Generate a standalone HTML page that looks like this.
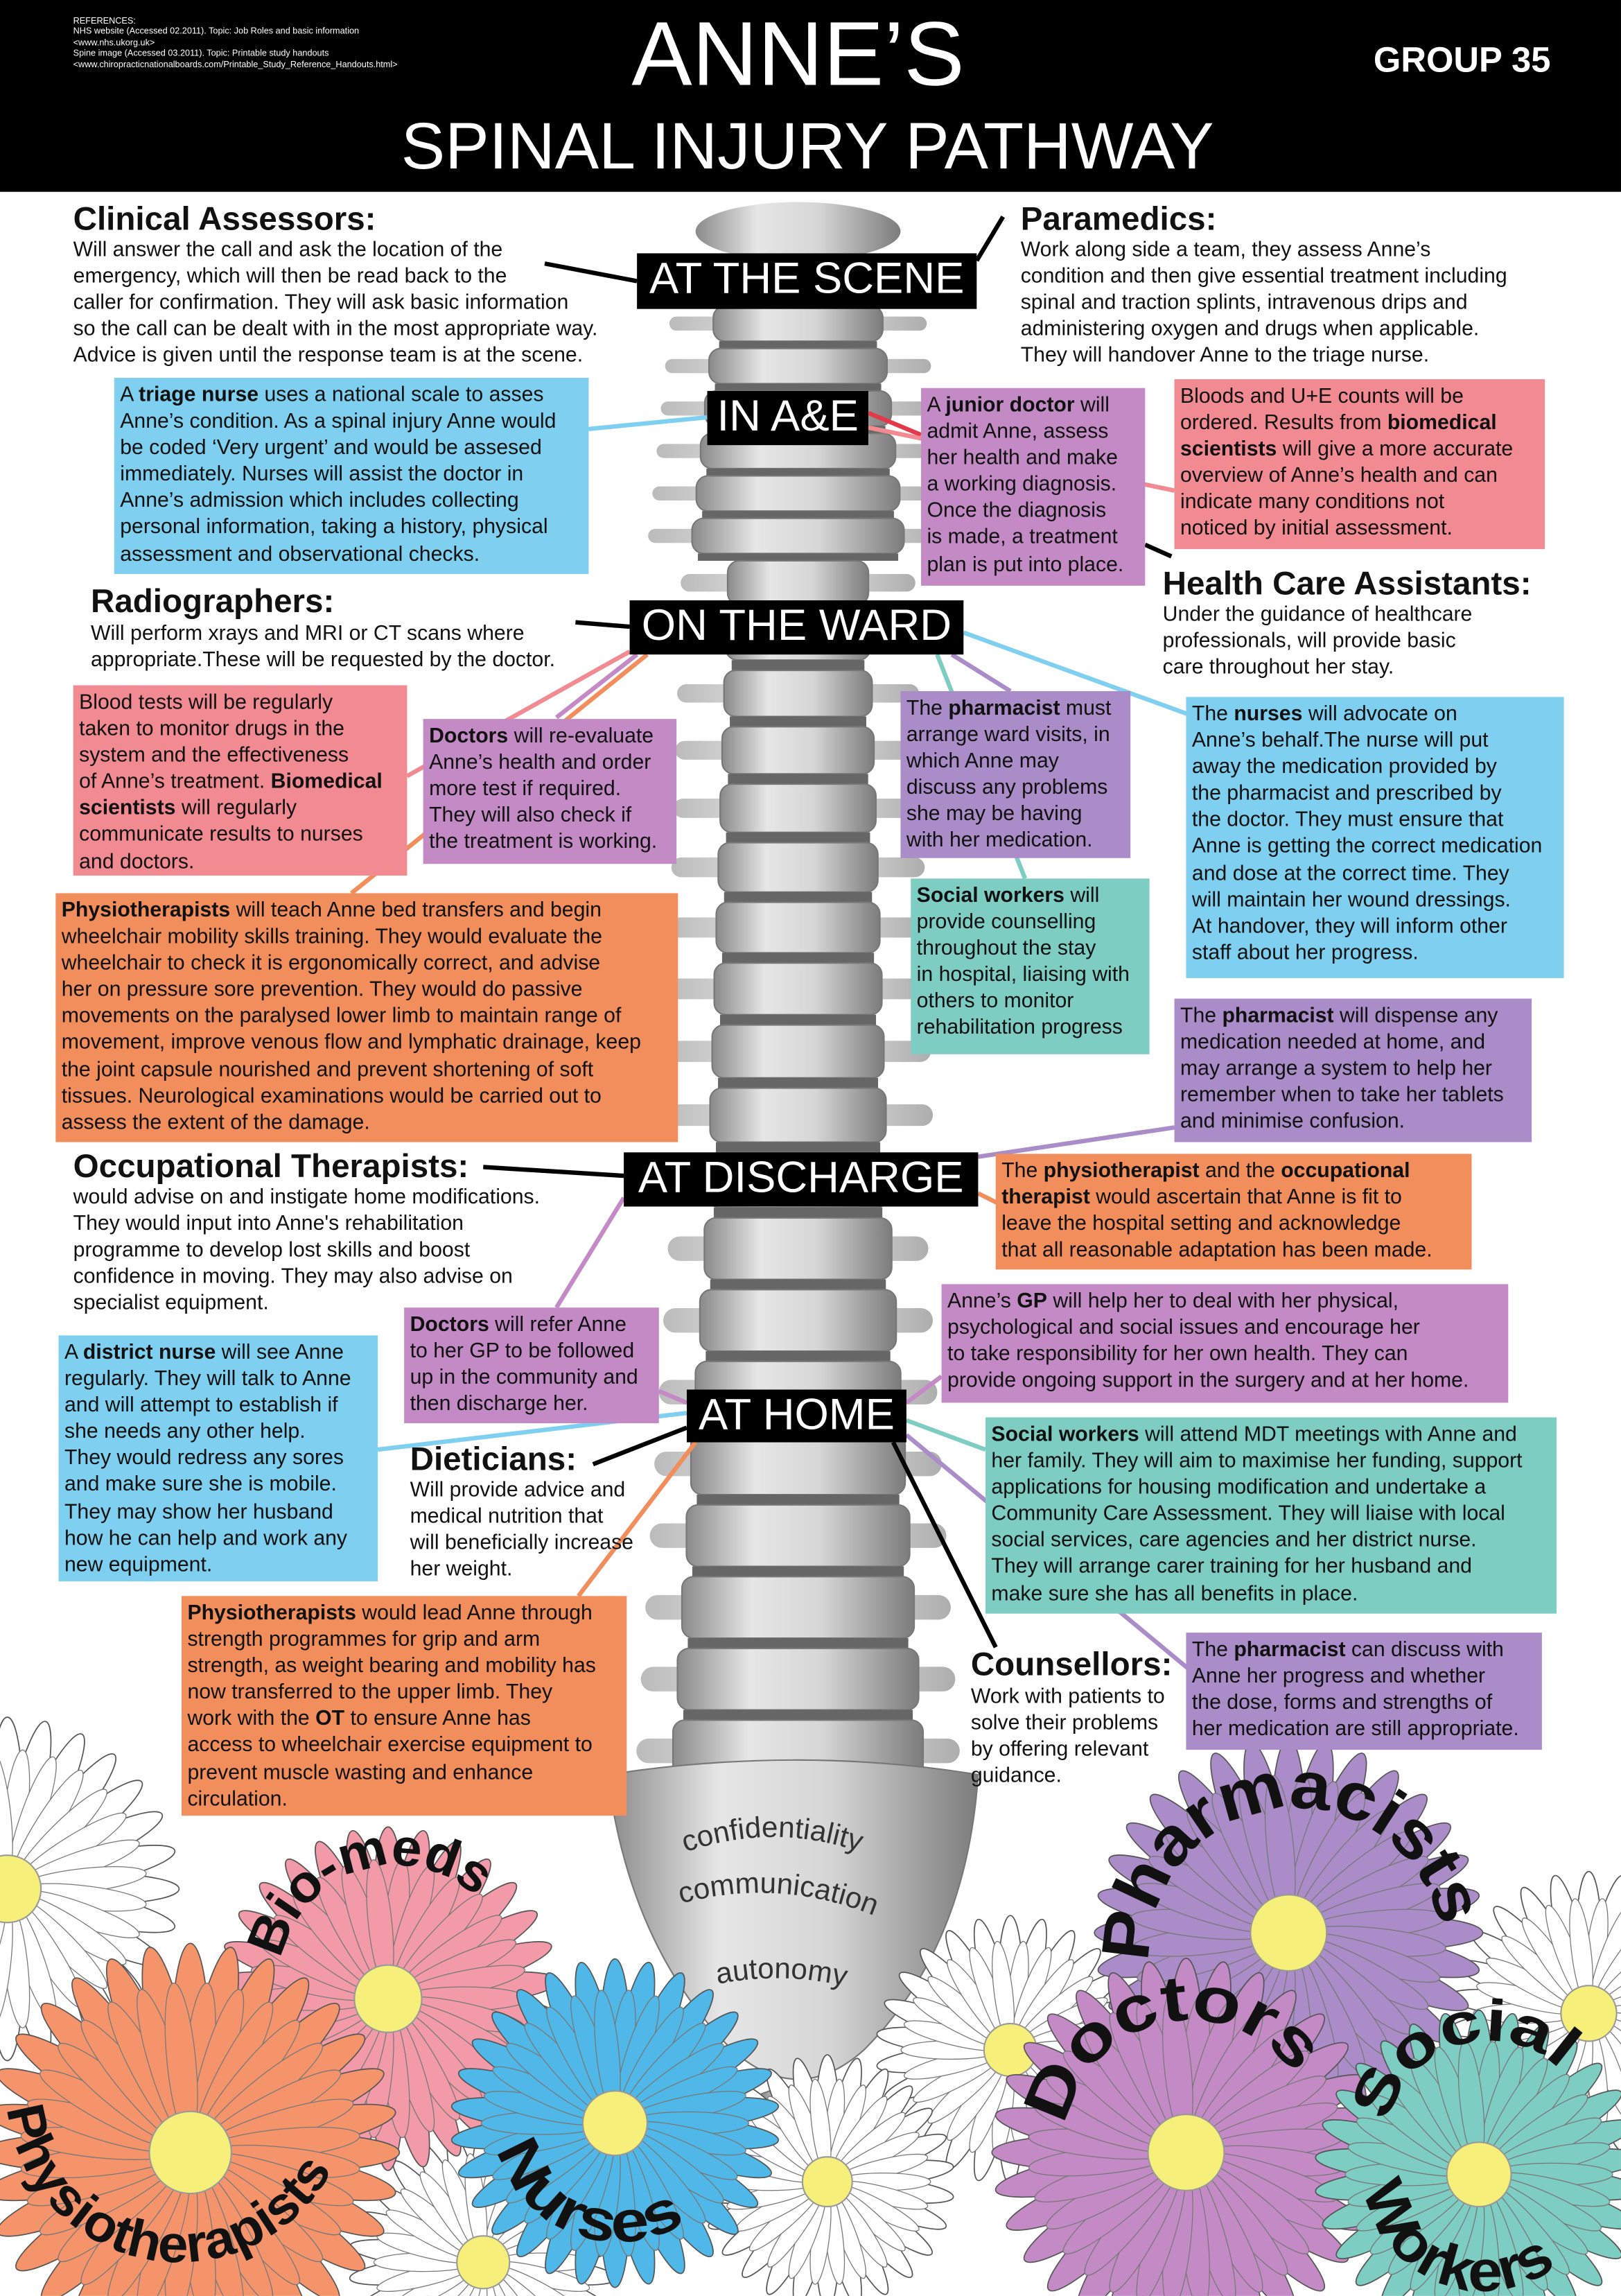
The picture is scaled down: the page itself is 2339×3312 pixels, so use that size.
<!DOCTYPE html>
<html><head><meta charset="utf-8">
<style>
html,body{margin:0;padding:0;background:#fff;}
body{width:2339px;height:3312px;overflow:hidden;position:relative;}
#c{position:absolute;left:0;top:0;width:1107px;height:1568px;transform:scale(2.1129,2.1122);transform-origin:0 0;font-family:"Liberation Sans",Arial,sans-serif;color:#111;}
.a{position:absolute;}
.b{position:absolute;font-size:14.3px;line-height:18.1px;padding:3px 4px;white-space:nowrap;box-sizing:border-box;}
.blue{background:#7fd0f0}.pink{background:#f28a92}.purple{background:#c48ac6}.lav{background:#a98cc8}.teal{background:#7ecdc3}.orange{background:#f28d5c}
.lbl{position:absolute;background:#000;color:#fff;font-size:30px;line-height:36px;padding:0 4px;white-space:nowrap;box-sizing:border-box;text-align:center;}
.h{font-size:22.5px;font-weight:bold;line-height:26px;}
.t{position:absolute;font-size:14.3px;line-height:18.1px;white-space:nowrap;}
b{font-weight:bold;}
</style></head><body>
<div id="c">
<div class="a" style="left:0;top:0;width:1107px;height:131px;background:#000;"></div>
<div class="a" style="left:50px;top:12px;color:#fff;font-size:6px;line-height:7.4px;white-space:nowrap;">REFERENCES:<br>NHS website (Accessed 02.2011). Topic: Job Roles and basic information<br>&lt;www.nhs.ukorg.uk&gt;<br>Spine image (Accessed 03.2011). Topic: Printable study handouts<br>&lt;www.chiropracticnationalboards.com/Printable_Study_Reference_Handouts.html&gt;</div>
<div class="a" style="left:0;width:1090px;top:2px;text-align:center;color:#fff;font-size:62px;line-height:72px;">ANNE’S</div>
<div class="a" style="left:0;width:1103px;top:74px;text-align:center;color:#fff;font-size:45px;line-height:52px;">SPINAL INJURY PATHWAY</div>
<div class="a" style="left:938px;top:28px;color:#fff;font-size:24px;font-weight:bold;">GROUP 35</div>

<svg class="a" style="left:0;top:0" width="1107" height="1568" viewBox="0 0 1107 1568" id="sv">
<defs>
<linearGradient id="vg" x1="0" x2="1" y1="0" y2="0"><stop offset="0" stop-color="#8a8a8a"/><stop offset=".3" stop-color="#e6e6e6"/><stop offset=".6" stop-color="#d6d6d6"/><stop offset="1" stop-color="#7c7c7c"/></linearGradient>
<linearGradient id="pg" x1="0" x2="1"><stop offset="0" stop-color="#aaa"/><stop offset=".5" stop-color="#e8e8e8"/><stop offset="1" stop-color="#999"/></linearGradient>
<path id="a1" d="M468,1265 Q540,1240 612,1275"/>
<path id="a2" d="M465,1300 Q540,1280 612,1315"/>
<path id="a3" d="M490,1355 Q540,1345 590,1360"/>
<path id="pa" d="M785,1340 A100,100 0 0 1 985,1330"/>
<path id="da" d="M728,1452 A86,86 0 0 1 895,1440"/>
<path id="sa" d="M948,1450 A70,70 0 0 1 1075,1425"/>
<path id="wa" d="M932,1495 A82,82 0 0 0 1085,1522"/>
<path id="ba" d="M192,1338 A80,80 0 0 1 345,1325"/>
<path id="na" d="M340,1468 A85,85 0 0 0 495,1490"/>
<path id="pha" d="M5,1440 A118,118 0 0 0 238,1450"/>
</defs>
<g id="spine"></g>
<g id="fl"></g>
<g id="tx" fill="#222" font-family="Liberation Sans,Arial,sans-serif" font-weight="bold">
<text font-size="20" fill="#333" font-weight="normal"><textPath href="#a1">confidentiality</textPath></text>
<text font-size="20" fill="#333" font-weight="normal"><textPath href="#a2">communication</textPath></text>
<text font-size="20" fill="#333" font-weight="normal"><textPath href="#a3">autonomy</textPath></text>
<text font-size="46" fill="#111"><textPath href="#pa" textLength="300" lengthAdjust="spacingAndGlyphs">Pharmacists</textPath></text>
<text font-size="44" fill="#111"><textPath href="#da" textLength="205" lengthAdjust="spacingAndGlyphs">Doctors</textPath></text>
<text font-size="40" fill="#111"><textPath href="#sa" textLength="150" lengthAdjust="spacingAndGlyphs">Social</textPath></text>
<text font-size="40" fill="#111"><textPath href="#wa" textLength="170" lengthAdjust="spacingAndGlyphs">Workers</textPath></text>
<text font-size="36" fill="#111"><textPath href="#ba" textLength="170" lengthAdjust="spacingAndGlyphs">Bio-meds</textPath></text>
<text font-size="40" fill="#111"><textPath href="#na" textLength="160" lengthAdjust="spacingAndGlyphs">Nurses</textPath></text>
<text font-size="36" fill="#111"><textPath href="#pha" textLength="300" lengthAdjust="spacingAndGlyphs">Physiotherapists</textPath></text>
</g>
<g fill="none" stroke-width="3">
<line x1="372" y1="180" x2="435" y2="192" stroke="#000"/>
<line x1="667" y1="178" x2="685" y2="148" stroke="#000"/>
<line x1="402" y1="293" x2="483" y2="285" stroke="#7fd0f0"/>
<line x1="593" y1="282" x2="629" y2="297" stroke="#e23a4a"/>
<line x1="593" y1="292" x2="802" y2="335" stroke="#f28a92"/>
<line x1="782" y1="372" x2="800" y2="380" stroke="#000"/>
<line x1="393" y1="425" x2="430" y2="428" stroke="#000"/>
<line x1="430" y1="445" x2="278" y2="530" stroke="#f28a92"/>
<line x1="435" y1="447" x2="380" y2="490" stroke="#c48ac6"/>
<line x1="442" y1="447" x2="240" y2="610" stroke="#f28d5c"/>
<line x1="658" y1="432" x2="812" y2="488" stroke="#7fd0f0"/>
<line x1="650" y1="447" x2="690" y2="472" stroke="#a98cc8"/>
<line x1="640" y1="447" x2="700" y2="600" stroke="#7ecdc3"/>
<line x1="330" y1="797" x2="426" y2="803" stroke="#000"/>
<line x1="426" y1="818" x2="380" y2="893" stroke="#c48ac6"/>
<line x1="668" y1="790" x2="802" y2="770" stroke="#a98cc8"/>
<line x1="668" y1="815" x2="682" y2="822" stroke="#f28d5c"/>
<line x1="469" y1="975" x2="405" y2="1000" stroke="#000"/>
<line x1="469" y1="958" x2="450" y2="950" stroke="#c48ac6"/>
<line x1="475" y1="985" x2="395" y2="1090" stroke="#f28d5c"/>
<line x1="469" y1="965" x2="258" y2="990" stroke="#7fd0f0"/>
<line x1="619" y1="958" x2="643" y2="940" stroke="#c48ac6"/>
<line x1="619" y1="970" x2="673" y2="990" stroke="#7ecdc3"/>
<line x1="619" y1="980" x2="812" y2="1140" stroke="#a98cc8"/>
<line x1="610" y1="985" x2="680" y2="1125" stroke="#000"/>
</g>
</svg>

<div class="lbl" style="left:435px;top:173px;width:232px;height:38px;">AT THE SCENE</div>
<div class="lbl" style="left:483px;top:267px;width:110px;height:37px;">IN A&amp;E</div>
<div class="lbl" style="left:430px;top:410px;width:228px;height:37px;">ON THE WARD</div>
<div class="lbl" style="left:426px;top:787px;width:242px;height:37px;">AT DISCHARGE</div>
<div class="lbl" style="left:469px;top:949px;width:150px;height:36px;">AT HOME</div>

<div class="a h" style="left:50px;top:137px;">Clinical Assessors:</div>
<div class="t" style="left:50px;top:162px;">Will answer the call and ask the location of the<br>emergency, which will then be read back to the<br>caller for confirmation. They will ask basic information<br>so the call can be dealt with in the most appropriate way.<br>Advice is given until the response team is at the scene.</div>
<div class="a h" style="left:697px;top:137px;">Paramedics:</div>
<div class="t" style="left:697px;top:162px;">Work along side a team, they assess Anne’s<br>condition and then give essential treatment including<br>spinal and traction splints, intravenous drips and<br>administering oxygen and drugs when applicable.<br>They will handover Anne to the triage nurse.</div>

<div class="b blue" style="left:78px;top:258px;width:324px;height:134px;">A <b>triage nurse</b> uses a national scale to asses<br>Anne’s condition. As a spinal injury Anne would<br>be coded ‘Very urgent’ and would be assesed<br>immediately. Nurses will assist the doctor in<br>Anne’s admission which includes collecting<br>personal information, taking a history, physical<br>assessment and observational checks.</div>
<div class="b purple" style="left:629px;top:265px;width:153px;height:135px;">A <b>junior doctor</b> will<br>admit Anne, assess<br>her health and make<br>a working diagnosis.<br>Once the diagnosis<br>is made, a treatment<br>plan is put into place.</div>
<div class="b pink" style="left:802px;top:259px;width:253px;height:116px;">Bloods and U+E counts will be<br>ordered. Results from <b>biomedical<br>scientists</b> will give a more accurate<br>overview of Anne’s health and can<br>indicate many conditions not<br>noticed by initial assessment.</div>

<div class="a h" style="left:62px;top:398px;">Radiographers:</div>
<div class="t" style="left:62px;top:424px;">Will perform xrays and MRI or CT scans where<br>appropriate.These will be requested by the doctor.</div>
<div class="a h" style="left:794px;top:386px;">Health Care Assistants:</div>
<div class="t" style="left:794px;top:411px;">Under the guidance of healthcare<br>professionals, will provide basic<br>care throughout her stay.</div>

<div class="b pink" style="left:50px;top:468px;width:228px;height:130px;">Blood tests will be regularly<br>taken to monitor drugs in the<br>system and the effectiveness<br>of Anne’s treatment. <b>Biomedical<br>scientists</b> will regularly<br>communicate results to nurses<br>and doctors.</div>
<div class="b purple" style="left:289px;top:491px;width:173px;height:99px;"><b>Doctors</b> will re-evaluate<br>Anne’s health and order<br>more test if required.<br>They will also check if<br>the treatment is working.</div>
<div class="b lav" style="left:615px;top:472px;width:157px;height:114px;">The <b>pharmacist</b> must<br>arrange ward visits, in<br>which Anne may<br>discuss any problems<br>she may be having<br>with her medication.</div>
<div class="b blue" style="left:810px;top:476px;width:258px;height:192px;">The <b>nurses</b> will advocate on<br>Anne’s behalf.The nurse will put<br>away the medication provided by<br>the pharmacist and prescribed by<br>the doctor. They must ensure that<br>Anne is getting the correct medication<br>and dose at the correct time. They<br>will maintain her wound dressings.<br>At handover, they will inform other<br>staff about her progress.</div>
<div class="b teal" style="left:622px;top:600px;width:163px;height:120px;"><b>Social workers</b> will<br>provide counselling<br>throughout the stay<br>in hospital, liaising with<br>others to monitor<br>rehabilitation progress</div>
<div class="b orange" style="left:38px;top:610px;width:425px;height:170px;"><b>Physiotherapists</b> will teach Anne bed transfers and begin<br>wheelchair mobility skills training. They would evaluate the<br>wheelchair to check it is ergonomically correct, and advise<br>her on pressure sore prevention. They would do passive<br>movements on the paralysed lower limb to maintain range of<br>movement, improve venous flow and lymphatic drainage, keep<br>the joint capsule nourished and prevent shortening of soft<br>tissues. Neurological examinations would be carried out to<br>assess the extent of the damage.</div>
<div class="b lav" style="left:802px;top:682px;width:244px;height:98px;">The <b>pharmacist</b> will dispense any<br>medication needed at home, and<br>may arrange a system to help her<br>remember when to take her tablets<br>and minimise confusion.</div>

<div class="a h" style="left:50px;top:784px;">Occupational Therapists:</div>
<div class="t" style="left:50px;top:809px;">would advise on and instigate home modifications.<br>They would input into Anne's rehabilitation<br>programme to develop lost skills and boost<br>confidence in moving. They may also advise on<br>specialist equipment.</div>
<div class="b orange" style="left:680px;top:788px;width:325px;height:79px;">The <b>physiotherapist</b> and the <b>occupational<br>therapist</b> would ascertain that Anne is fit to<br>leave the hospital setting and acknowledge<br>that all reasonable adaptation has been made.</div>
<div class="b purple" style="left:643px;top:877px;width:387px;height:81px;">Anne’s <b>GP</b> will help her to deal with her physical,<br>psychological and social issues and encourage her<br>to take responsibility for her own health. They can<br>provide ongoing support in the surgery and at her home.</div>
<div class="b purple" style="left:276px;top:893px;width:174px;height:79px;"><b>Doctors</b> will refer Anne<br>to her GP to be followed<br>up in the community and<br>then discharge her.</div>
<div class="b blue" style="left:40px;top:912px;width:218px;height:168px;">A <b>district nurse</b> will see Anne<br>regularly. They will talk to Anne<br>and will attempt to establish if<br>she needs any other help.<br>They would redress any sores<br>and make sure she is mobile.<br>They may show her husband<br>how he can help and work any<br>new equipment.</div>
<div class="b teal" style="left:673px;top:968px;width:390px;height:134px;"><b>Social workers</b> will attend MDT meetings with Anne and<br>her family. They will aim to maximise her funding, support<br>applications for housing modification and undertake a<br>Community Care Assessment. They will liaise with local<br>social services, care agencies and her district nurse.<br>They will arrange carer training for her husband and<br>make sure she has all benefits in place.</div>
<div class="a h" style="left:280px;top:984px;">Dieticians:</div>
<div class="t" style="left:280px;top:1009px;">Will provide advice and<br>medical nutrition that<br>will beneficially increase<br>her weight.</div>
<div class="b orange" style="left:124px;top:1090px;width:304px;height:150px;"><b>Physiotherapists</b> would lead Anne through<br>strength programmes for grip and arm<br>strength, as weight bearing and mobility has<br>now transferred to the upper limb. They<br>work with the <b>OT</b> to ensure Anne has<br>access to wheelchair exercise equipment to<br>prevent muscle wasting and enhance<br>circulation.</div>
<div class="a h" style="left:663px;top:1124px;">Counsellors:</div>
<div class="t" style="left:663px;top:1150px;">Work with patients to<br>solve their problems<br>by offering relevant<br>guidance.</div>
<div class="b lav" style="left:810px;top:1115px;width:243px;height:80px;">The <b>pharmacist</b> can discuss with<br>Anne her progress and whether<br>the dose, forms and strengths of<br>her medication are still appropriate.</div>
</div>
<script>
var NS="http://www.w3.org/2000/svg";
function el(p,n,a){var e=document.createElementNS(NS,n);for(var k in a)e.setAttribute(k,a[k]);p.appendChild(e);return e;}
var sp=document.getElementById('spine');
el(sp,'ellipse',{cx:545,cy:158,rx:70,ry:20,fill:'url(#vg)'});
var y=180;
while(y<1200){
 var w,h;
 if(y<380){w=55+(y-180)/200*20;h=24;}
 else if(y<800){w=48+(y-380)/420*14;h=30+(y-380)/420*8;}
 else{w=62+(y-800)/400*25;h=42;}
 var pw = y<380? w+30 : (y<800? w+32 : w+25);
 el(sp,'rect',{x:545-pw,y:y+h*0.3,width:pw*2,height:h*0.4,rx:h*0.2,fill:'url(#pg)',opacity:0.8});
 el(sp,'rect',{x:545-w,y:y,width:w*2,height:h,rx:8,fill:'url(#vg)',stroke:'#777','stroke-width':1});
 el(sp,'rect',{x:545-w+4,y:y+h,width:w*2-8,height:y<380?5:7,fill:'#666'});
 y+=h+(y<380?5:7);
}
el(sp,'path',{d:'M415,1212 Q545,1192 668,1212 Q660,1330 590,1400 Q545,1440 500,1400 Q430,1330 415,1212 Z',fill:'url(#vg)',stroke:'#777','stroke-width':1});
el(sp,'path',{d:'M520,1430 Q545,1420 570,1430 L560,1500 Q545,1515 530,1500 Z',fill:'url(#vg)',stroke:'#777'});
var fl=document.getElementById('fl');
function flower(cx,cy,r,col,n){
 var g=el(fl,'g',{});
 for(var i=0;i<n;i++){var a=360*i/n;
  el(g,'ellipse',{cx:cx,cy:cy-r*0.55,rx:r*0.09,ry:r*0.47,fill:col,stroke:'#555','stroke-width':0.8,transform:'rotate('+a+' '+cx+' '+cy+')'});}
 for(var i=0;i<n;i++){var a=360*i/n+180/n;
  el(g,'ellipse',{cx:cx,cy:cy-r*0.45,rx:r*0.07,ry:r*0.38,fill:col,stroke:'#777','stroke-width':0.6,transform:'rotate('+a+' '+cx+' '+cy+')'});}
 el(g,'circle',{cx:cx,cy:cy,r:r*0.2,fill:'#f6f07a',stroke:'#999','stroke-width':1});
}
flower(5,1290,115,'#ffffff',28);
flower(690,1400,90,'#ffffff',26);
flower(1085,1375,95,'#ffffff',26);
flower(565,1490,85,'#ffffff',26);
flower(330,1545,90,'#ffffff',26);
flower(265,1365,115,'#f29aa8',30);
flower(880,1320,130,'#a98cc8',32);
flower(420,1450,110,'#4fb8e8',30);
flower(130,1470,140,'#f5946a',32);
flower(810,1470,130,'#c48ac6',32);
flower(1010,1485,110,'#7ecdc3',30);
document.getElementById('sv').appendChild(document.getElementById('tx'));
</script>
</body></html>
